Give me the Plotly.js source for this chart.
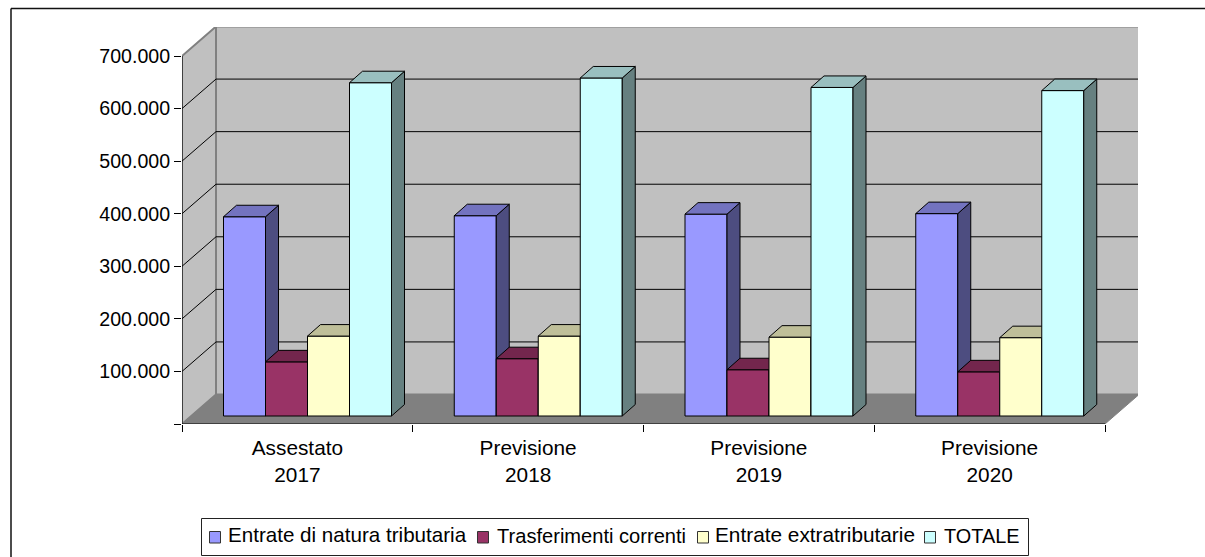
<!DOCTYPE html>
<html>
<head>
<meta charset="utf-8">
<script src="https://cdn.plot.ly/plotly-3.0.1.min.js"></script>
<style>html,body{margin:0;padding:0;background:#fff}</style>
</head>
<body>
<div id="chart" style="width:1205px;height:557px"></div>
<script>
// Entrate: assestato 2017 e previsioni 2018-2020
const periods = ["Assestato<br>2017", "Previsione<br>2018", "Previsione<br>2019", "Previsione<br>2020"];
const seriesNames = ["Entrate di natura tributaria", "Trasferimenti correnti", "Entrate extratributarie", "TOTALE"];
const tributarie = [379000, 381000, 384000, 385000];
const trasferimenti = [103000, 109000, 88000, 84000];
const extratributarie = [152000, 152000, 150000, 149000];
const totale = [634000, 643000, 625000, 619000];
const tickValues = [0, 100000, 200000, 300000, 400000, 500000, 600000, 700000];
const tickLabels = ["", "100.000", "200.000", "300.000", "400.000", "500.000", "600.000", "700.000"];

const seriesValues = [tributarie, trasferimenti, extratributarie, totale];
const frontColors = ["#9999FF", "#993366", "#FFFFCC", "#CCFFFF"];
const topColors = ["#7373BF", "#73264D", "#BFBF99", "#99BFBF"];
const sideColors = ["#4D4D80", "#4D1A33", "#808066", "#668080"];

// Plot box in pixels; the box also holds the receding walls
const W = 1205, H = 557;
const boxL = 182, boxR = 1138, boxT = 27, boxB = 424;
const pxPerCat = 230.75, pxPerUnit = 52.57 / 100000;
const dx = px => px / pxPerCat;
const dv = px => px / pxPerUnit;
const xRange = [0, dx(boxR - boxL)];
const yRange = [0, dv(boxB - boxT)];

// Projection depth of the chart floor and of each column
const wallX = dx(34), wallV = dv(29.5);
const barDepthX = dx(13), barDepthV = dv(11.5);
const barLeft = dx(41.5), barW = dx(42), barBase = dv(8);

const paperX = px => (px - boxL) / (boxR - boxL);
const paperY = py => (boxB - py) / (boxB - boxT);

// Each series sits on its own overlaid subplot so later columns cover earlier faces
const traces = [];
const axes = {};
seriesValues.forEach((values, k) => {
  const id = k === 0 ? "" : String(k + 1);
  const xa = "x" + id, ya = "y" + id;
  const offset = barLeft + k * barW;
  const xs = periods.map((_, i) => i);

  const sideX = [], sideY = [], topX = [], topY = [];
  values.forEach((v, i) => {
    const l = i + offset, r = l + barW, t = barBase + v;
    sideX.push(r, r + barDepthX, r + barDepthX, r, r, null);
    sideY.push(barBase, barBase + barDepthV, t + barDepthV, t, barBase, null);
    topX.push(l, l + barDepthX, r + barDepthX, r, l, null);
    topY.push(t, t + barDepthV, t + barDepthV, t, t, null);
  });

  const face = (x, y, color) => ({
    type: "scatter", mode: "lines", x, y, xaxis: xa, yaxis: ya,
    fill: "toself", fillcolor: color,
    line: {color: "#000", width: 1},
    hoverinfo: "skip", showlegend: false
  });

  traces.push({
    type: "bar", name: seriesNames[k], x: xs, y: values,
    base: values.map(() => barBase),
    offset, width: barW, xaxis: xa, yaxis: ya,
    marker: {color: frontColors[k], line: {color: "#000", width: 1}},
    showlegend: false
  });
  traces.push(face(sideX, sideY, sideColors[k]));
  traces.push(face(topX, topY, topColors[k]));

  if (k > 0) {
    axes["xaxis" + id] = {overlaying: "x", range: xRange, visible: false, anchor: ya, fixedrange: true};
    axes["yaxis" + id] = {overlaying: "y", range: yRange, visible: false, anchor: xa, fixedrange: true};
  }
});

// Walls, floor and the gridlines that run across them
const shapes = [];
const poly = pts => "M" + pts.map(p => p[0] + "," + p[1]).join("L") + "Z";
const wallTop = 700000 + wallV;
shapes.push({type: "path", xref: "x", yref: "y", layer: "below",
  path: poly([[wallX, wallV], [4 + wallX, wallV], [4 + wallX, wallTop], [wallX, wallTop]]),
  fillcolor: "#C0C0C0", line: {color: "#808080", width: 2}});
shapes.push({type: "path", xref: "x", yref: "y", layer: "below",
  path: poly([[0, 0], [wallX, wallV], [wallX, wallTop], [0, 700000]]),
  fillcolor: "#C0C0C0", line: {color: "#808080", width: 2}});
tickValues.slice(1, -1).forEach(v => {
  shapes.push({type: "path", xref: "x", yref: "y", layer: "below",
    path: "M0," + v + "L" + wallX + "," + (v + wallV) + "L" + (4 + wallX) + "," + (v + wallV),
    line: {color: "#000", width: 1}});
});
shapes.push({type: "path", xref: "x", yref: "y", layer: "below",
  path: poly([[0, 0], [4, 0], [4 + wallX, wallV], [wallX, wallV]]),
  fillcolor: "#808080", line: {color: "#808080", width: 1}});
shapes.push({type: "line", xref: "x", yref: "y", layer: "below", x0: 0, x1: 0, y0: 0, y1: 700000, line: {color: "#000", width: 1}});
shapes.push({type: "line", xref: "x", yref: "y", layer: "below", x0: 0, x1: 4, y0: 0, y1: 0, line: {color: "#000", width: 1}});

// Outer chart frame (top and left edges)
shapes.push({type: "line", xref: "paper", yref: "paper", x0: paperX(11), x1: paperX(1205), y0: paperY(8.5), y1: paperY(8.5), line: {color: "#111", width: 1.5}});
shapes.push({type: "line", xref: "paper", yref: "paper", x0: paperX(11), x1: paperX(11), y0: paperY(8.5), y1: paperY(557), line: {color: "#111", width: 1.5}});

// Legend: box, swatches and entry labels
const fontFamily = "Liberation Sans, Arial, sans-serif";
shapes.push({type: "rect", xref: "paper", yref: "paper", x0: paperX(201.5), x1: paperX(1028.5), y0: paperY(518.5), y1: paperY(555.5), line: {color: "#222", width: 1}});
const swatchLefts = [209, 477, 697, 924];
const labelLefts = [227, 496, 714, 943];
const labelSizes = [20.6, 20.1, 20.8, 19.9];
const labelMids = [534.5, 535.5, 534.5, 535.5];
const annotations = seriesNames.map((name, k) => ({
  text: name, showarrow: false, xref: "paper", yref: "paper",
  x: paperX(labelLefts[k]), y: paperY(labelMids[k]), xanchor: "left", yanchor: "middle",
  borderpad: 0, font: {family: fontFamily, size: labelSizes[k], color: "#000"}
}));
swatchLefts.forEach((left, k) => {
  shapes.push({type: "rect", xref: "paper", yref: "paper",
    x0: paperX(left + 0.5), x1: paperX(left + 11.5), y0: paperY(531.5), y1: paperY(543),
    fillcolor: frontColors[k], line: {color: "#333", width: 1}});
});

const layout = {
  width: W, height: H, autosize: false,
  margin: {l: boxL, r: W - boxR, t: boxT, b: H - boxB, pad: 0, autoexpand: false},
  paper_bgcolor: "#fff", plot_bgcolor: "rgba(0,0,0,0)",
  barmode: "overlay", hovermode: false, showlegend: false,
  font: {family: fontFamily, size: 20, color: "#000"},
  shapes, annotations,
  xaxis: {
    range: xRange, tickmode: "array",
    tickvals: periods.map((_, i) => i + 0.5), ticktext: periods,
    ticks: "", showgrid: false, zeroline: false, showline: false, fixedrange: true,
    ticklabelstandoff: 9,
    minor: {tickmode: "array", tickvals: [0, 1, 2, 3, 4], ticks: "outside", ticklen: 7, tickwidth: 1, tickcolor: "#000", showgrid: false},
    tickfont: {family: fontFamily, size: 20.8, color: "#000"}
  },
  yaxis: {
    range: yRange, tickmode: "array", tickvals: tickValues, ticktext: tickLabels,
    ticks: "outside", ticklen: 7, tickwidth: 1, tickcolor: "#000",
    showgrid: false, zeroline: false, showline: false, fixedrange: true,
    tickfont: {family: fontFamily, size: 19.6, color: "#000"}
  },
  ...axes
};

Plotly.newPlot("chart", traces, layout, {displayModeBar: false, staticPlot: true});
</script>
</body>
</html>
